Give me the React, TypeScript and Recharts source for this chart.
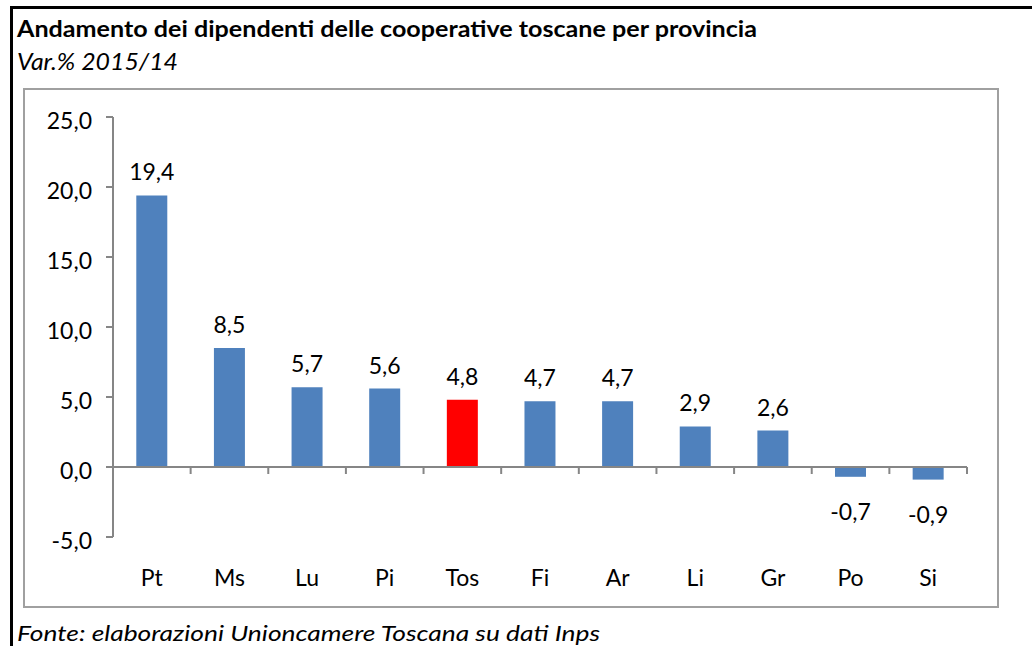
import { BarChart, Bar, XAxis, YAxis, Cell, LabelList, ReferenceLine } from 'recharts';

const provinces = ['Pt', 'Ms', 'Lu', 'Pi', 'Tos', 'Fi', 'Ar', 'Li', 'Gr', 'Po', 'Si'];
const changes = [19.4, 8.5, 5.7, 5.6, 4.8, 4.7, 4.7, 2.9, 2.6, -0.7, -0.9];
const yTicks = [-5, 0, 5, 10, 15, 20, 25];
const highlight = 'Tos';

const title = 'Andamento dei dipendenti delle cooperative toscane per provincia';
const subtitle = 'Var.% 2015/14';
const source = 'Fonte: elaborazioni Unioncamere Toscana su dati Inps';

const data = provinces.map((name, i) => ({ name, value: changes[i] }));

const FONT = 'Lato, "Open Sans", sans-serif';
const AXIS = '#868686';

const fmt = (v: number) => v.toFixed(1).replace('.', ',');

// value labels: above positive bars, below negative ones
function BarValue(props: any) {
  const { x, y, width, height, value } = props;
  const top = Math.min(y, y + height);
  const bottom = Math.max(y, y + height);
  const ty = value >= 0 ? top - 15 : bottom + 43;
  return (
    <text x={x + width / 2} y={ty} textAnchor="middle" fontSize={23} fontFamily={FONT} fill="#000">
      {fmt(value)}
    </text>
  );
}

// y tick labels sit a little below their tick, like Excel
function YTick(props: any) {
  const { x, y, payload } = props;
  return (
    <text x={x} y={y + 4} dy="0.36em" textAnchor="end" fontSize={23} fontFamily={FONT} fill="#000">
      {fmt(payload.value)}
    </text>
  );
}

// horizontal axis line at zero, with tick marks between categories
function ZeroAxis(props: any) {
  const { x1, x2, y1 } = props;
  const n = provinces.length;
  const step = (x2 - x1) / n;
  return (
    <g>
      <line x1={x1} x2={x2} y1={y1} y2={y1} stroke={AXIS} strokeWidth={2} />
      {Array.from({ length: n + 1 }, (_, i) => (
        <line key={i} x1={x1 + i * step} x2={x1 + i * step} y1={y1} y2={y1 + 7} stroke={AXIS} strokeWidth={2} />
      ))}
    </g>
  );
}

export default function App() {
  return (
    <div style={{ position: 'absolute', left: 0, top: 0, width: 1032, height: 646, background: '#fff' }}>
      <svg width={1032} height={646} style={{ position: 'absolute', left: 0, top: 0 }}>
        <line x1={10} x2={1032} y1={7.5} y2={7.5} stroke="#000" strokeWidth={3} />
        <line x1={11.5} x2={11.5} y1={6} y2={646} stroke="#000" strokeWidth={3} />
        <rect x={24} y={89} width={974} height={518} fill="none" stroke="#a0a0a0" strokeWidth={2} />
        <text x={17} y={37} fontSize={22} fontWeight="bold" fontFamily={FONT} textLength={740} lengthAdjust="spacingAndGlyphs">
          {title}
        </text>
        <text x={17} y={70} fontSize={23} fontStyle="italic" fontFamily={FONT} textLength={161} lengthAdjust="spacingAndGlyphs">
          {subtitle}
        </text>
        <text x={17} y={641} fontSize={22} fontStyle="italic" fontFamily={FONT} textLength={583} lengthAdjust="spacingAndGlyphs">
          {source}
        </text>
      </svg>
      <div style={{ position: 'absolute', left: 0, top: 0 }}>
        <BarChart width={1032} height={646} data={data} margin={{ top: 117, right: 65, bottom: 49, left: 43 }} barCategoryGap="30%">
          <XAxis
            dataKey="name"
            axisLine={false}
            tickLine={false}
            interval={0}
            height={60}
            tickMargin={27}
            tick={{ fill: '#000', fontSize: 23, fontFamily: FONT }}
          />
          <YAxis
            domain={[-5, 25]}
            ticks={yTicks}
            interval={0}
            width={70}
            axisLine={{ stroke: AXIS, strokeWidth: 2 }}
            tickLine={{ stroke: AXIS, strokeWidth: 2 }}
            tickSize={7}
            tickMargin={14}
            tick={YTick}
          />
          <Bar dataKey="value" isAnimationActive={false}>
            {data.map((d) => (
              <Cell key={d.name} fill={d.name === highlight ? '#FF0000' : '#4F81BD'} />
            ))}
            <LabelList dataKey="value" content={BarValue} />
          </Bar>
          <ReferenceLine y={0} shape={ZeroAxis} />
        </BarChart>
      </div>
    </div>
  );
}
